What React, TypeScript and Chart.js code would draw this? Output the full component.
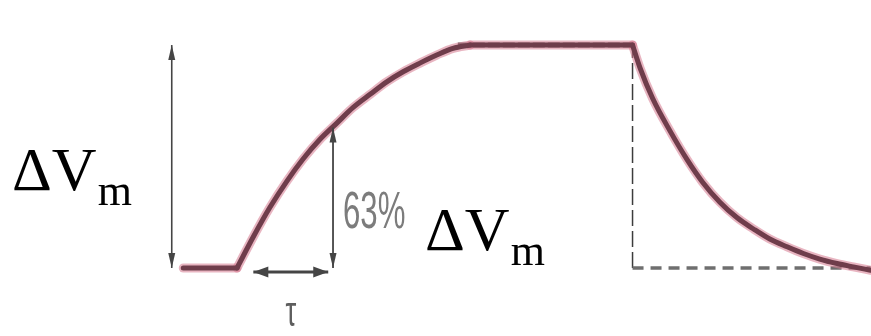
import React, { useEffect, useRef } from "react";
import { Chart, registerables } from "chart.js";

Chart.register(...registerables);

// Time is in units of the membrane time constant τ (0 = onset of the current step);
// level is the membrane potential change as a fraction of ΔVm.
const restTime = [-0.56, 0];
const restLevel = [0, 0];
const riseTime = [0, 0.17, 0.34, 0.52, 0.69, 0.86, 1.04, 1.21, 1.39, 1.56, 1.73, 1.91, 2.08, 2.25, 2.43];
const riseLevel = [0, 0.14, 0.27, 0.39, 0.49, 0.575, 0.65, 0.72, 0.78, 0.835, 0.88, 0.92, 0.955, 0.985, 1.0];
const plateauTime = [2.43, 4.12];
const plateauLevel = [1, 1];
const decayTime = [4.12, 4.2, 4.33, 4.51, 4.69, 4.85, 5.03, 5.21, 5.38, 5.55, 5.73, 5.9, 6.07, 6.25, 6.42, 6.6];
const decayLevel = [1, 0.895, 0.76, 0.615, 0.485, 0.385, 0.295, 0.225, 0.175, 0.13, 0.095, 0.065, 0.04, 0.02, 0.005, -0.01];

// Reference guides
const guideBaseTime = [4.12, 6.6];
const guideBaseLevel = [0, 0];
const guideOffTime = [4.12, 4.12];
const guideOffLevel = [0, 1];
const guideTopTime = [2.3, 4.12];
const guideTopLevel = [1, 1];

// Annotation arrows
const amplitudeArrow = { t: -0.68, from: 0, to: 1 };
const tauFraction = 0.63;
const tauArrowTime = 1.0;
const tauSpan = { level: -0.018, from: 0.17, to: 0.95 };

const X_MIN = -2.469;
const X_MAX = 6.604;
const Y_MIN = -0.305;
const Y_MAX = 1.202;

const toPoints = (xs: number[], ys: number[]) => xs.map((x, i) => ({ x, y: ys[i] }));

const traceSegments = [
  { xs: restTime, ys: restLevel, smooth: false },
  { xs: riseTime, ys: riseLevel, smooth: true },
  { xs: plateauTime, ys: plateauLevel, smooth: false },
  { xs: decayTime, ys: decayLevel, smooth: true },
];

function drawArrow(
  ctx: CanvasRenderingContext2D,
  x1: number,
  y1: number,
  x2: number,
  y2: number,
  head: number,
  half: number
) {
  const ang = Math.atan2(y2 - y1, x2 - x1);
  ctx.beginPath();
  ctx.moveTo(x1, y1);
  ctx.lineTo(x2, y2);
  ctx.stroke();
  const tip = (x: number, y: number, a: number) => {
    ctx.beginPath();
    ctx.moveTo(x, y);
    ctx.lineTo(x - head * Math.cos(a) + half * Math.sin(a), y - head * Math.sin(a) - half * Math.cos(a));
    ctx.lineTo(x - head * Math.cos(a) - half * Math.sin(a), y - head * Math.sin(a) + half * Math.cos(a));
    ctx.closePath();
    ctx.fill();
  };
  tip(x2, y2, ang);
  tip(x1, y1, ang + Math.PI);
}

const annotations = {
  id: "annotations",
  afterDatasetsDraw(chart: any) {
    const { ctx, scales } = chart;
    const px = (t: number) => scales.x.getPixelForValue(t);
    const py = (v: number) => scales.y.getPixelForValue(v);
    ctx.save();
    ctx.strokeStyle = "#454545";
    ctx.fillStyle = "#454545";

    // amplitude arrow
    ctx.lineWidth = 1.6;
    drawArrow(ctx, px(amplitudeArrow.t), py(amplitudeArrow.from), px(amplitudeArrow.t), py(amplitudeArrow.to), 15, 3.5);

    // 63 % arrow at t = τ
    ctx.lineWidth = 1.8;
    drawArrow(ctx, px(tauArrowTime), py(0), px(tauArrowTime), py(tauFraction), 15, 3.5);

    // τ span
    ctx.lineWidth = 2.8;
    drawArrow(ctx, px(tauSpan.from), py(tauSpan.level), px(tauSpan.to), py(tauSpan.level), 15, 5.5);
    ctx.restore();
  },
  afterDraw(chart: any) {
    const { ctx, scales } = chart;
    const px = (t: number) => scales.x.getPixelForValue(t);
    const py = (v: number) => scales.y.getPixelForValue(v);
    ctx.save();
    ctx.textBaseline = "alphabetic";

    const deltaV = (x: number, y: number) => {
      ctx.fillStyle = "#000";
      ctx.textAlign = "left";
      ctx.font = '62px "Liberation Serif"';
      ctx.fillText("ΔV", x, y);
      const w = ctx.measureText("ΔV").width;
      ctx.font = '44px "Liberation Serif"';
      ctx.fillText("m", x + w + 1, y + 15);
    };
    deltaV(12, 190);
    deltaV(425, 250);

    // 63%
    ctx.save();
    ctx.translate(px(tauArrowTime) + 10, py(0) - 40);
    ctx.scale(0.6, 1);
    ctx.fillStyle = "#7c7c7c";
    ctx.font = '52px "Liberation Sans"';
    ctx.textAlign = "left";
    ctx.fillText("63%", 0, 0);
    ctx.restore();

    // τ
    ctx.save();
    ctx.translate((px(tauSpan.from) + px(tauSpan.to)) / 2, py(tauSpan.level) + 54);
    ctx.scale(0.8, 1.25);
    ctx.fillStyle = "#5e5e5e";
    ctx.font = '34px "Liberation Sans"';
    ctx.textAlign = "center";
    ctx.fillText("τ", 0, 0);
    ctx.restore();

    ctx.restore();
  },
};

export default function App() {
  const ref = useRef<HTMLCanvasElement | null>(null);

  useEffect(() => {
    if (!ref.current) return;
    const datasets: any[] = [];
    const guide = (xs: number[], ys: number[], color: string, width: number, dash: number[]) => ({
      data: toPoints(xs, ys),
      borderColor: color,
      borderWidth: width,
      borderDash: dash,
      pointRadius: 0,
      fill: false,
      order: 3,
    });
    datasets.push(guide(guideBaseTime, guideBaseLevel, "#6f6f6f", 3.5, [11, 7]));
    datasets.push(guide(guideOffTime, guideOffLevel, "#3c3c3c", 1.5, [16, 5]));
    datasets.push(guide(guideTopTime, guideTopLevel, "#555555", 5, [12, 3]));

    for (const seg of traceSegments) {
      const base = {
        data: toPoints(seg.xs, seg.ys),
        pointRadius: 0,
        fill: false,
        borderCapStyle: "round",
        borderJoinStyle: "round",
        cubicInterpolationMode: seg.smooth ? "monotone" : "default",
        tension: 0,
      };
      datasets.push({ ...base, borderColor: "rgba(214,120,142,0.55)", borderWidth: 9, order: 2 });
      datasets.push({ ...base, borderColor: "#6f3d4b", borderWidth: 5, order: 1 });
    }

    const chart = new Chart(ref.current, {
      type: "line",
      data: { datasets },
      options: {
        animation: false,
        responsive: false,
        devicePixelRatio: 1,
        layout: { padding: 0 },
        plugins: { legend: { display: false }, tooltip: { enabled: false } },
        scales: {
          x: { type: "linear", min: X_MIN, max: X_MAX, display: false },
          y: { type: "linear", min: Y_MIN, max: Y_MAX, display: false },
        },
      },
      plugins: [annotations],
    });
    return () => chart.destroy();
  }, []);

  return (
    <div style={{ position: "absolute", left: 0, top: 0, width: 871, height: 336, background: "#fff" }}>
      <canvas ref={ref} width={871} height={336} />
    </div>
  );
}
